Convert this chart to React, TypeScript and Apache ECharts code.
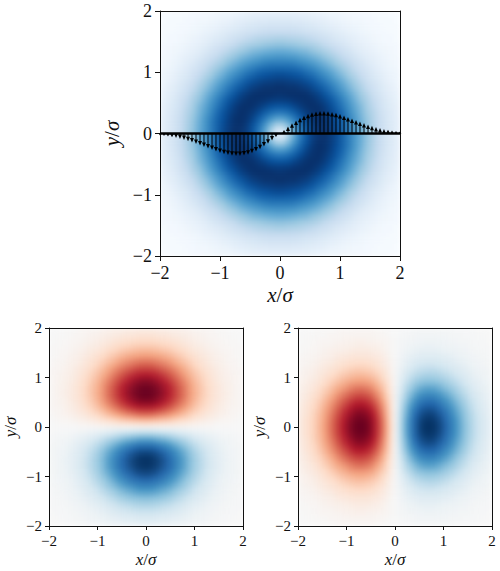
import React, { useEffect, useRef } from "react";
import * as echarts from "echarts";

// Cell centres of one quadrant, in sigma: 0.05, 0.15 ... 1.95
const cellCount = 40;
const categories = Array.from({ length: cellCount }, (_, i) => String(i));

// Top panel magnitude (0-100), one quadrant. Rows: |y|, columns: |x|
const ringQuadrant = [
  [16,36,56,73,86,95,99,100,96,90,81,71,61,51,41,33,25,19,14,10],
  [36,47,63,77,88,96,100,99,95,89,80,71,60,50,40,32,25,19,14,10],
  [56,63,73,83,92,98,100,99,94,87,79,69,59,48,39,31,24,18,13,10],
  [73,77,83,90,96,99,100,97,92,85,76,66,56,46,37,30,23,17,13,9],
  [86,88,92,96,99,100,99,95,89,81,72,63,53,44,35,28,21,16,12,9],
  [95,96,98,99,100,99,96,91,85,77,68,59,49,40,33,26,20,15,11,8],
  [99,100,100,100,99,96,92,86,79,71,63,54,45,37,30,23,18,13,10,7],
  [100,99,99,97,95,91,86,80,73,65,57,48,40,33,26,21,16,12,9,6],
  [96,95,94,92,89,85,79,73,66,59,51,43,36,29,23,18,14,10,7,5],
  [90,89,87,85,81,77,71,65,59,51,44,37,31,25,20,15,12,9,6,5],
  [81,80,79,76,72,68,63,57,51,44,38,32,26,21,17,13,10,7,5,4],
  [71,71,69,66,63,59,54,48,43,37,32,27,22,18,14,11,8,6,4,3],
  [61,60,59,56,53,49,45,40,36,31,26,22,18,14,11,9,7,5,3,3],
  [51,50,48,46,44,40,37,33,29,25,21,18,14,11,9,7,5,4,3,2],
  [41,40,39,37,35,33,30,26,23,20,17,14,11,9,7,6,4,3,2,2],
  [33,32,31,30,28,26,23,21,18,15,13,11,9,7,6,4,3,2,2,1],
  [25,25,24,23,21,20,18,16,14,12,10,8,7,5,4,3,2,2,1,1],
  [19,19,18,17,16,15,13,12,10,9,7,6,5,4,3,2,2,1,1,1],
  [14,14,13,13,12,11,10,9,7,6,5,4,3,3,2,2,1,1,1,0],
  [10,10,10,9,9,8,7,6,5,5,4,3,3,2,2,1,1,1,0,0],
];

// Bottom panels' lobe strength (0-100), one quadrant. Rows: across the node line, columns: along it
const lobeQuadrant = [
  [12,11,11,10,9,9,8,7,6,5,4,3,2,2,1,1,1,1,0,0],
  [34,33,32,30,28,25,22,19,17,14,11,9,7,6,4,3,2,2,1,1],
  [55,54,51,48,45,40,36,31,27,22,18,15,11,9,7,5,4,3,2,1],
  [72,71,68,64,59,53,47,41,35,29,24,19,15,12,9,7,5,3,2,2],
  [85,84,81,76,70,63,56,49,42,35,28,23,18,14,10,8,6,4,3,2],
  [95,93,89,84,77,70,62,54,46,38,31,25,20,15,12,9,6,4,3,2],
  [99,97,93,88,81,73,65,57,48,40,33,26,21,16,12,9,7,5,3,2],
  [99,97,94,88,81,74,65,57,48,40,33,27,21,16,12,9,7,5,3,2],
  [96,94,90,85,79,71,63,55,47,39,32,26,20,16,12,9,6,5,3,2],
  [90,88,84,79,73,66,59,51,44,36,30,24,19,15,11,8,6,4,3,2],
  [81,79,76,72,66,60,53,46,39,33,27,22,17,13,10,7,5,4,3,2],
  [71,70,67,63,58,53,47,41,35,29,24,19,15,12,9,6,5,3,2,2],
  [61,60,57,54,50,45,40,35,30,25,20,16,13,10,7,6,4,3,2,1],
  [51,50,48,45,42,38,33,29,25,21,17,14,11,8,6,5,3,2,2,1],
  [41,40,39,37,34,31,27,24,20,17,14,11,9,7,5,4,3,2,1,1],
  [33,32,31,29,27,24,21,19,16,13,11,9,7,5,4,3,2,2,1,1],
  [25,25,24,22,21,19,17,14,12,10,8,7,5,4,3,2,2,1,1,1],
  [19,19,18,17,16,14,13,11,9,8,6,5,4,3,2,2,1,1,1,0],
  [14,14,13,12,12,10,9,8,7,6,5,4,3,2,2,1,1,1,0,0],
  [10,10,9,9,8,7,7,6,5,4,3,3,2,2,1,1,1,0,0,0],
];

// Arrows on the top panel
const quiverX = [
  -2,-1.933,-1.867,-1.8,-1.733,-1.667,-1.6,-1.533,-1.467,-1.4,-1.333,-1.267,-1.2,-1.133,-1.067,
  -1,-0.933,-0.867,-0.8,-0.733,-0.667,-0.6,-0.533,-0.467,-0.4,-0.333,-0.267,-0.2,-0.133,-0.067,
  0,0.067,0.133,0.2,0.267,0.333,0.4,0.467,0.533,0.6,0.667,0.733,0.8,0.867,0.933,
  1,1.067,1.133,1.2,1.267,1.333,1.4,1.467,1.533,1.6,1.667,1.733,1.8,1.867,1.933,2,
];
const quiverY = [
  -0.032,-0.04,-0.049,-0.061,-0.074,-0.089,-0.107,-0.126,-0.147,-0.17,-0.194,-0.22,-0.245,-0.271,-0.295,
  -0.318,-0.337,-0.353,-0.364,-0.369,-0.369,-0.361,-0.346,-0.324,-0.294,-0.257,-0.214,-0.166,-0.113,-0.057,
  0,0.057,0.113,0.166,0.214,0.257,0.294,0.324,0.346,0.361,0.369,0.369,0.364,0.353,0.337,
  0.318,0.295,0.271,0.245,0.22,0.194,0.17,0.147,0.126,0.107,0.089,0.074,0.061,0.049,0.04,0.032,
];
const baselineX = [-2, 2];
const baselineY = [0, 0];

const blues = ["#f7fbff","#deebf7","#c6dbef","#9ecae1","#6baed6","#4292c6","#2171b5","#08519c","#08306b"];
const rdBu = ["#053061","#2166ac","#4393c3","#92c5de","#d1e5f0","#f7f7f7","#fddbc7","#f4a582","#d6604d","#b2182b","#67001f"];

const tickText = (v: number) => String(v).replace("-", "\u2212");
const fold = (k: number) => (k < cellCount / 2 ? cellCount / 2 - 1 - k : k - cellCount / 2);

const ringData: number[][] = [];
const upperLowerData: number[][] = [];
const leftRightData: number[][] = [];
for (let xi = 0; xi < cellCount; xi++) {
  for (let yi = 0; yi < cellCount; yi++) {
    const xq = fold(xi);
    const yq = fold(yi);
    ringData.push([xi, yi, ringQuadrant[yq][xq]]);
    upperLowerData.push([xi, yi, (yi >= cellCount / 2 ? 1 : -1) * lobeQuadrant[yq][xq]]);
    leftRightData.push([xi, yi, (xi < cellCount / 2 ? 1 : -1) * lobeQuadrant[xq][yq]]);
  }
}

const FONT = "'Liberation Serif', serif";
const INK = "#111";

const panels = [
  { left: 160, top: 11, width: 240, height: 245, font: 18, nameFont: 21, tick: 5, xGap: 28, yGap: 38, margin: 8 },
  { left: 49, top: 328, width: 194, height: 198, font: 15, nameFont: 17, tick: 4, xGap: 25, yGap: 30, margin: 7 },
  { left: 298, top: 328, width: 194, height: 198, font: 15, nameFont: 17, tick: 4, xGap: 25, yGap: 30, margin: 7 },
];

const axisSet = (p: (typeof panels)[number], gridIndex: number, dim: "x" | "y") => {
  const italic = { fontFamily: FONT, fontStyle: "italic", fontSize: p.nameFont, color: INK };
  const plain = { fontFamily: FONT, fontSize: p.nameFont, color: INK };
  return [
    {
      type: "value",
      gridIndex,
      min: -2,
      max: 2,
      interval: 1,
      position: dim === "x" ? "bottom" : "left",
      splitLine: { show: false },
      axisLine: { show: true, onZero: false, lineStyle: { color: INK, width: 1 } },
      axisTick: { show: true, length: p.tick, lineStyle: { color: INK, width: 1 } },
      axisLabel: {
        fontFamily: FONT,
        fontSize: p.font,
        color: INK,
        margin: p.margin,
        formatter: tickText,
        hideOverlap: false,
      },
      name: dim === "x" ? "{i|x}{r|/}{i|\u03c3}" : "{i|y}{r|/}{i|\u03c3}",
      nameLocation: "middle",
      nameGap: dim === "x" ? p.xGap : p.yGap,
      nameRotate: dim === "x" ? 0 : 90,
      nameTextStyle: { rich: { i: italic, r: plain } },
    },
    {
      type: "value",
      gridIndex,
      min: -2,
      max: 2,
      interval: 1,
      position: dim === "x" ? "top" : "right",
      splitLine: { show: false },
      axisLine: { show: true, onZero: false, lineStyle: { color: INK, width: 1 } },
      axisTick: { show: false },
      axisLabel: { show: false },
    },
  ];
};

const gridOf = panels.map((p) => ({ left: p.left, top: p.top, width: p.width, height: p.height, containLabel: false }));

const heat = (gridNo: number, data: number[][]) => ({
  type: "heatmap",
  xAxisIndex: gridNo,
  yAxisIndex: gridNo,
  data,
  progressive: 0,
  itemStyle: { borderWidth: 0 },
  emphasis: { disabled: true },
});

const clipD = panels.map((p) => `M${p.left} ${p.top}h${p.width}v${p.height}h${-p.width}z`).join(" ");
const layer: React.CSSProperties = { position: "absolute", left: 0, top: 0, width: 500, height: 571 };

export default function App() {
  const fieldRef = useRef<HTMLDivElement>(null);
  const axesRef = useRef<HTMLDivElement>(null);
  useEffect(() => {
    if (!fieldRef.current || !axesRef.current) return;
    const field = echarts.init(fieldRef.current, undefined, { renderer: "svg" });
    field.setOption({
      animation: false,
      tooltip: { show: false },
      grid: gridOf,
      xAxis: panels.map((_, i) => ({ type: "category", gridIndex: i, data: categories, show: false })),
      yAxis: panels.map((_, i) => ({ type: "category", gridIndex: i, data: categories, show: false })),
      visualMap: [
        { show: false, type: "continuous", seriesIndex: 0, dimension: 2, min: 0, max: 100, inRange: { color: blues } },
        { show: false, type: "continuous", seriesIndex: [1, 2], dimension: 2, min: -100, max: 100, inRange: { color: rdBu } },
      ],
      series: [heat(0, ringData), heat(1, upperLowerData), heat(2, leftRightData)],
    });
    const axes = echarts.init(axesRef.current, undefined, { renderer: "svg" });
    axes.setOption({
      animation: false,
      tooltip: { show: false },
      grid: gridOf,
      xAxis: panels.flatMap((p, i) => axisSet(p, i, "x")),
      yAxis: panels.flatMap((p, i) => axisSet(p, i, "y")),
      series: [
        {
          type: "custom",
          xAxisIndex: 0,
          yAxisIndex: 0,
          z: 3,
          clip: false,
          encode: { x: 0, y: 1 },
          data: quiverX.map((x, i) => [x, quiverY[i]]),
          renderItem: (_: unknown, api: any) => {
            const [x0, y0] = api.coord([api.value(0), 0]);
            const [x1, y1] = api.coord([api.value(0), api.value(1)]);
            const len = Math.abs(y1 - y0);
            const dir = y1 < y0 ? 1 : -1;
            const head = Math.min(4.5, len);
            const half = Math.min(2, 0.6 + len * 0.4);
            const w = 0.5;
            return {
              type: "polygon",
              shape: {
                points: [
                  [x0 - w, y0],
                  [x0 - w, y1 + dir * head],
                  [x1 - half, y1 + dir * head],
                  [x1, y1],
                  [x1 + half, y1 + dir * head],
                  [x0 + w, y1 + dir * head],
                  [x0 + w, y0],
                ],
              },
              style: { fill: "#000" },
            };
          },
        },
        {
          type: "line",
          xAxisIndex: 0,
          yAxisIndex: 0,
          z: 4,
          clip: false,
          showSymbol: false,
          silent: true,
          data: baselineX.map((x, i) => [x, baselineY[i]]),
          lineStyle: { color: "#000", width: 2.4 },
        },
      ],
    });
    return () => {
      field.dispose();
      axes.dispose();
    };
  }, []);
  return (
    <div style={{ ...layer, background: "#fff" }}>
      <div style={{ ...layer, clipPath: `path('${clipD}')` }}>
        <div ref={fieldRef} style={{ ...layer, filter: "blur(2.4px)" }} />
      </div>
      <div ref={axesRef} style={layer} />
    </div>
  );
}
